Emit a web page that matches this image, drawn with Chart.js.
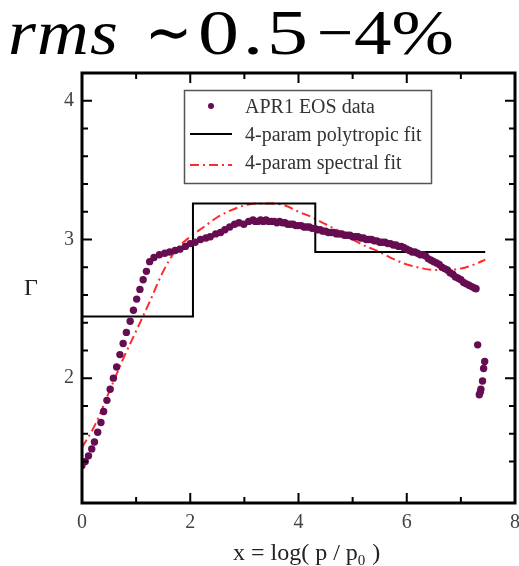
<!DOCTYPE html>
<html>
<head>
<meta charset="utf-8">
<script src="https://cdn.jsdelivr.net/npm/chart.js@4.4.0/dist/chart.umd.min.js"></script>
<style>
html, body { margin: 0; padding: 0; background: #fff; }
#wrap { position: relative; width: 519px; height: 566px; overflow: hidden; }
#chart { position: absolute; left: 0; top: 0; }
.t { position: absolute; top: -7px; font-family: "Liberation Serif", serif; font-size: 64px; line-height: 80px; color: #000; white-space: pre; transform-origin: 0 50%; }
</style>
</head>
<body>
<div id="wrap">
  <canvas id="chart" width="519" height="566"></canvas>
  <div class="t" style="left:8px;font-style:italic;letter-spacing:1px;transform:scaleX(1.12)">rms</div>
  <div class="t" style="left:145px;transform:scaleX(0.88)">∼</div>
  <div class="t" style="left:198px;letter-spacing:3px;transform:scaleX(1.28)">0.5</div>
  <div class="t" style="left:317px">−</div>
  <div class="t" style="left:354px;transform:scaleX(1.17)">4%</div>
</div>
<script>
const xTickLabels = ['0', '2', '4', '6', '8'];
const yTickLabels = ['2', '3', '4'];

// APR1 EOS data, [x, Gamma]
const aprX = [
  0, 0.06, 0.12, 0.18, 0.23, 0.29, 0.35, 0.40, 0.46, 0.52, 0.58, 0.64, 0.70, 0.76, 0.82, 0.89, 0.95,
  1.01, 1.07, 1.13, 1.19, 1.25, 1.33, 1.43, 1.53, 1.62, 1.72, 1.81, 1.91, 2.00, 2.09, 2.19, 2.29,
  2.37, 2.47, 2.56, 2.64, 2.73, 2.82, 2.90, 2.99, 3.08, 3.16,
  3.20, 3.25, 3.30, 3.35, 3.40, 3.45, 3.50, 3.55, 3.60, 3.65, 3.70, 3.75, 3.80, 3.85, 3.90, 3.95,
  4.00, 4.05, 4.10, 4.15, 4.20, 4.25, 4.30, 4.35, 4.40, 4.45, 4.50, 4.55, 4.60, 4.65, 4.70, 4.75,
  4.80, 4.85, 4.90, 4.95, 5.00, 5.05, 5.10, 5.15, 5.20, 5.25, 5.30, 5.35, 5.40, 5.45, 5.50, 5.55,
  5.60, 5.65, 5.70, 5.75, 5.80, 5.85, 5.90, 5.95, 6.00, 6.05, 6.10, 6.15, 6.20, 6.25, 6.30, 6.35,
  6.40, 6.45, 6.50, 6.55, 6.60, 6.65, 6.70, 6.75, 6.80, 6.85, 6.90, 6.95, 7.00, 7.05, 7.10, 7.15,
  7.20, 7.25, 7.28,
  7.31, 7.44, 7.42, 7.40, 7.37, 7.36, 7.34
];
const aprG = [
  1.37, 1.40, 1.44, 1.49, 1.54, 1.61, 1.68, 1.76, 1.84, 1.92, 2.00, 2.08, 2.17, 2.25, 2.33, 2.41, 2.49,
  2.57, 2.64, 2.71, 2.77, 2.84, 2.87, 2.89, 2.90, 2.91, 2.92, 2.93, 2.95, 2.97, 2.98, 3.00, 3.01,
  3.02, 3.04, 3.05, 3.07, 3.09, 3.11, 3.12, 3.11, 3.13, 3.14,
  3.13, 3.13, 3.14, 3.13, 3.14, 3.13, 3.13, 3.13, 3.12, 3.13, 3.12, 3.12, 3.11, 3.11, 3.11, 3.10,
  3.10, 3.10, 3.09, 3.09, 3.09, 3.08, 3.08, 3.07, 3.07, 3.06, 3.06, 3.05, 3.05, 3.05, 3.04, 3.04,
  3.04, 3.03, 3.03, 3.03, 3.02, 3.02, 3.02, 3.01, 3.01, 3.00, 3.00, 3.00, 2.99, 2.99, 2.98, 2.98,
  2.98, 2.97, 2.97, 2.96, 2.96, 2.95, 2.95, 2.94, 2.93, 2.92, 2.91, 2.91, 2.90, 2.89, 2.89, 2.88,
  2.86, 2.85, 2.84, 2.83, 2.82, 2.80, 2.79, 2.78, 2.76, 2.75, 2.73, 2.72, 2.71, 2.69, 2.68, 2.67,
  2.66, 2.65, 2.645,
  2.24, 2.12, 2.07, 1.98, 1.92, 1.90, 1.88
];

// 4-param polytropic fit (piecewise constant)
const polyX = [0, 2.05, 2.05, 4.31, 4.31, 7.45];
const polyG = [2.445, 2.445, 3.26, 3.26, 2.91, 2.91];

// 4-param spectral fit
const specX = [0, 0.25, 0.5, 0.75, 1.0, 1.25, 1.5, 1.75, 2.0, 2.25, 2.5, 2.75, 3.0, 3.25, 3.5, 3.75,
  4.0, 4.25, 4.5, 4.75, 5.0, 5.25, 5.5, 5.75, 6.0, 6.25, 6.5, 6.75, 7.0, 7.25, 7.45];
const specG = [1.50, 1.67, 1.90, 2.13, 2.34, 2.55, 2.77, 2.93, 3.02, 3.09, 3.16, 3.21, 3.245, 3.26, 3.26, 3.245,
  3.20, 3.16, 3.11, 3.06, 3.00, 2.95, 2.91, 2.86, 2.82, 2.795, 2.78, 2.78, 2.79, 2.82, 2.855];

const toPts = (xs, ys) => xs.map((x, i) => ({ x: x, y: ys[i] }));

const serif = '"Liberation Serif", "Times New Roman", serif';
const isStep = (v, s) => Math.abs(v / s - Math.round(v / s)) < 1e-6;

const decor = {
  id: 'decor',
  afterDatasetsDraw(chart) {
    const ctx = chart.ctx;
    const a = chart.chartArea;
    const xs = chart.scales.x;
    const ys = chart.scales.y;
    ctx.save();
    ctx.strokeStyle = '#000';
    ctx.lineWidth = 2;
    // inward ticks on all four sides
    xs.ticks.forEach(t => {
      if (t.value <= xs.min || t.value >= xs.max) return;
      const px = xs.getPixelForValue(t.value);
      const len = isStep(t.value, 2) ? 10 : 6;
      ctx.beginPath();
      ctx.moveTo(px, a.bottom); ctx.lineTo(px, a.bottom - len);
      ctx.moveTo(px, a.top); ctx.lineTo(px, a.top + len);
      ctx.stroke();
    });
    ys.ticks.forEach(t => {
      if (t.value <= ys.min + 1e-6 || t.value >= ys.max - 1e-6) return;
      if (!isStep(t.value, 0.2)) return;
      const py = ys.getPixelForValue(t.value);
      const len = isStep(t.value, 1) ? 10 : 6;
      ctx.beginPath();
      ctx.moveTo(a.left, py); ctx.lineTo(a.left + len, py);
      ctx.moveTo(a.right, py); ctx.lineTo(a.right - len, py);
      ctx.stroke();
    });
    ctx.lineWidth = 3;
    ctx.strokeRect(a.left, a.top, a.right - a.left, a.bottom - a.top);

    // legend
    const bx = 184, by = 90, bw = 247, bh = 93;
    ctx.fillStyle = '#fff';
    ctx.fillRect(bx, by, bw, bh);
    ctx.strokeStyle = '#555';
    ctx.lineWidth = 1.5;
    ctx.strokeRect(bx + 0.5, by + 0.5, bw, bh);
    ctx.font = '20px ' + serif;
    ctx.textBaseline = 'middle';
    ctx.textAlign = 'left';
    const rows = [108, 136, 164];
    chart.data.datasets.forEach((ds, i) => {
      const y = rows[i];
      if (ds.showLine) {
        ctx.strokeStyle = ds.borderColor;
        ctx.lineWidth = ds.borderWidth;
        ctx.setLineDash(ds.borderDash || []);
        ctx.beginPath();
        ctx.moveTo(190, i === 1 ? y - 2 : y + 1);
        ctx.lineTo(232, i === 1 ? y - 2 : y + 1);
        ctx.stroke();
        ctx.setLineDash([]);
      } else {
        ctx.fillStyle = ds.backgroundColor;
        ctx.beginPath();
        ctx.arc(211, y - 2, 3, 0, Math.PI * 2);
        ctx.fill();
      }
      ctx.fillStyle = '#333';
      ctx.fillText(ds.label, 245, y);
    });

    // axis titles
    ctx.fillStyle = '#222';
    ctx.font = '24px ' + serif;
    ctx.textBaseline = 'alphabetic';
    ctx.fillText('Γ', 24, 295);
    ctx.font = '24px ' + serif;
    let x = 233;
    const base = 560;
    const part1 = 'x = log( p / p';
    ctx.fillText(part1, x, base);
    x += ctx.measureText(part1).width;
    ctx.font = '15px ' + serif;
    ctx.fillText('0', x, base + 5);
    x += ctx.measureText('0').width + 1;
    ctx.font = '24px ' + serif;
    ctx.fillText(' )', x, base);
    ctx.restore();
  }
};

const ctx = document.getElementById('chart').getContext('2d');
const chart = new Chart(ctx, {
  type: 'scatter',
  data: {
    datasets: [
      {
        label: 'APR1 EOS data',
        data: toPts(aprX, aprG),
        showLine: false,
        pointRadius: 3.7,
        pointBorderWidth: 0,
        backgroundColor: '#660c50',
        borderColor: '#660c50'
      },
      {
        label: '4-param polytropic fit',
        data: toPts(polyX, polyG),
        showLine: true,
        pointRadius: 0,
        borderColor: '#000',
        borderWidth: 2,
        tension: 0
      },
      {
        label: '4-param spectral fit',
        data: toPts(specX, specG),
        showLine: true,
        pointRadius: 0,
        borderColor: '#ff2a2a',
        borderWidth: 2,
        borderDash: [9, 4, 2, 4],
        cubicInterpolationMode: 'monotone'
      }
    ]
  },
  options: {
    responsive: false,
    animation: false,
    devicePixelRatio: 1,
    layout: { padding: { top: 73, right: 3, left: 0, bottom: 0 } },
    plugins: {
      legend: { display: false },
      tooltip: { enabled: false },
      title: { display: false }
    },
    scales: {
      x: {
        type: 'linear',
        min: 0,
        max: 8,
        grid: { display: false, drawTicks: false },
        border: { display: false },
        ticks: {
          stepSize: 1,
          autoSkip: false,
          maxRotation: 0,
          padding: 8,
          color: '#444',
          font: { family: serif, size: 20 },
          callback: v => (xTickLabels.includes(String(v)) ? String(v) : '')
        },
        afterFit: s => { s.height = 63; s.paddingLeft = 0; s.paddingRight = 0; }
      },
      y: {
        type: 'linear',
        min: 1.1,
        max: 4.2,
        grid: { display: false, drawTicks: false },
        border: { display: false },
        ticks: {
          stepSize: 0.2,
          autoSkip: false,
          padding: 8,
          color: '#444',
          font: { family: serif, size: 20 },
          callback: v => {
            const r = String(Math.round(v * 1000) / 1000);
            return yTickLabels.includes(r) ? r : '';
          }
        },
        afterFit: s => { s.width = 82; s.paddingTop = 0; s.paddingBottom = 0; }
      }
    }
  },
  plugins: [decor]
});
</script>
</body>
</html>
